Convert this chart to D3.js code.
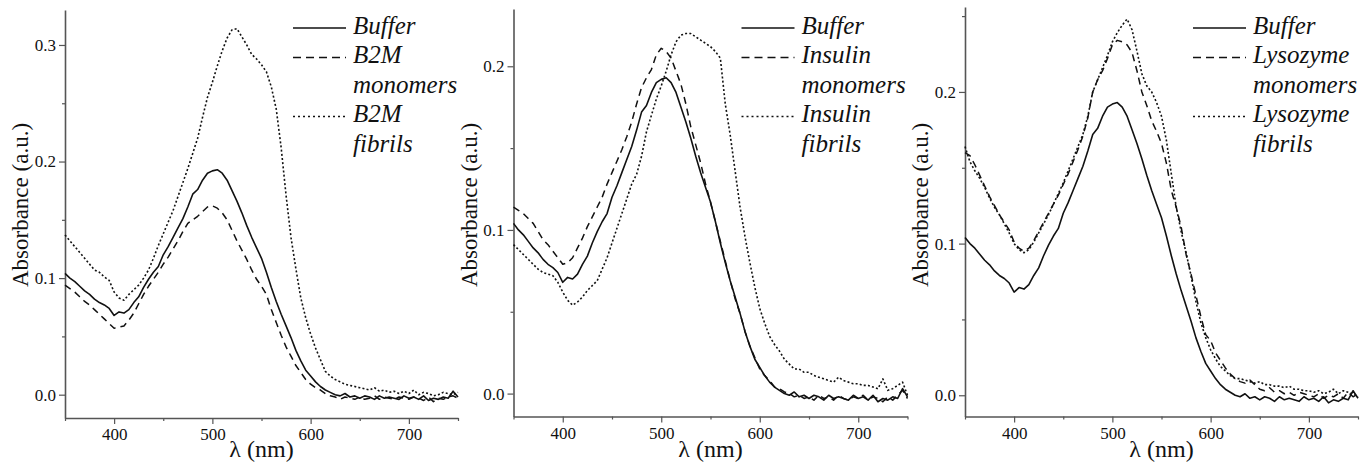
<!DOCTYPE html>
<html>
<head>
<meta charset="utf-8">
<script src="https://cdn.jsdelivr.net/npm/d3@7"></script>
<style>
  body { margin: 0; background: #fff; }
</style>
</head>
<body>
<div class="canvas"></div>
<script>
// wavelength grid, 350..750 nm every 5 nm
const wavelengths = d3.range(350, 751, 5)

// each row below = 50 nm (10 points), last value = 750 nm
const buffer = [
  .104,.100,.097,.093,.089,.086,.082,.079,.077,.074,
  .068,.071,.070,.073,.079,.084,.092,.099,.105,.110,
  .120,.127,.135,.143,.151,.161,.172,.176,.184,.190,
  .192,.193,.190,.184,.175,.166,.156,.145,.135,.126,
  .117,.105,.092,.080,.069,.059,.049,.038,.029,.021,
  .016,.011,.007,.004,.002,.000,-.001,.001,-.002,-.001,
  -.003,-.001,-.002,-.004,-.001,-.003,-.002,-.003,-.004,-.001,
  -.003,-.002,-.004,-.001,-.005,-.003,-.004,-.002,-.003,.003,
  -.002
]
const b2mMonomers = [
  .094,.091,.088,.084,.080,.077,.073,.069,.065,.061,
  .057,.058,.059,.064,.070,.078,.086,.093,.099,.105,
  .112,.118,.125,.132,.140,.147,.150,.153,.157,.161,
  .162,.160,.156,.150,.141,.132,.124,.116,.107,.099,
  .093,.086,.073,.062,.051,.041,.033,.025,.019,.013,
  .009,.006,.004,.001,-.001,-.002,-.004,-.002,-.003,-.004,
  -.002,-.004,-.003,-.001,-.004,-.002,-.003,-.004,-.002,-.003,
  -.004,-.002,-.003,-.005,-.002,-.006,-.003,-.004,-.002,-.001,
  -.003
]
const b2mFibrils = [
  .137,.132,.127,.122,.117,.112,.107,.105,.101,.098,
  .088,.083,.081,.086,.090,.094,.100,.107,.117,.128,
  .138,.148,.158,.170,.182,.194,.207,.220,.238,.255,
  .268,.282,.295,.306,.313,.314,.307,.300,.292,.288,
  .283,.277,.264,.245,.212,.171,.135,.108,.083,.066,
  .052,.040,.030,.020,.016,.013,.011,.009,.008,.007,
  .006,.005,.004,.006,.003,.004,.002,.003,.001,.003,
  .001,.004,.000,.002,.001,-.001,.000,.002,.001,.000,
  .002
]
const insulinMonomers = [
  .114,.112,.110,.107,.104,.099,.094,.091,.087,.083,
  .079,.080,.083,.089,.095,.102,.108,.114,.120,.128,
  .135,.142,.149,.157,.166,.177,.187,.193,.198,.207,
  .211,.209,.205,.197,.189,.177,.163,.152,.141,.128,
  .117,.105,.093,.081,.069,.058,.049,.038,.029,.022,
  .015,.011,.008,.004,.003,.001,.000,-.002,-.001,-.003,
  -.002,-.004,-.001,-.003,-.002,-.004,-.001,-.003,-.004,-.002,
  -.003,-.001,-.004,-.002,-.003,-.005,-.002,-.004,-.001,.002,
  -.003
]
const insulinFibrils = [
  .091,.088,.085,.082,.079,.076,.074,.073,.072,.068,
  .062,.057,.054,.056,.059,.063,.066,.069,.076,.083,
  .092,.101,.110,.119,.128,.134,.145,.160,.170,.180,
  .188,.197,.207,.215,.219,.220,.220,.218,.216,.214,
  .212,.209,.205,.177,.158,.136,.114,.096,.080,.065,
  .052,.043,.035,.030,.026,.021,.018,.015,.015,.013,
  .013,.011,.010,.009,.008,.007,.010,.008,.007,.006,
  .006,.005,.005,.004,.003,.009,.002,.003,.005,.007,
  -.001
]
const lysozymeMonomers = [
  .160,.158,.152,.145,.138,.131,.125,.119,.114,.109,
  .101,.097,.095,.097,.102,.108,.114,.120,.126,.132,
  .139,.146,.154,.162,.171,.183,.200,.208,.214,.222,
  .231,.234,.233,.231,.226,.214,.200,.191,.181,.174,
  .166,.153,.135,.124,.111,.093,.080,.066,.052,.040,
  .036,.028,.023,.018,.014,.011,.009,.008,.010,.007,
  .004,.003,.005,.002,.003,.001,.002,.000,.002,.001,
  .000,-.001,.001,-.002,.000,-.001,.001,-.002,.002,-.001,
  .001
]
const lysozymeFibrils = [
  .164,.154,.148,.143,.137,.130,.124,.119,.113,.107,
  .100,.096,.094,.096,.101,.107,.113,.119,.126,.133,
  .140,.148,.156,.164,.172,.184,.200,.208,.216,.224,
  .233,.239,.244,.248,.241,.227,.212,.204,.200,.193,
  .184,.168,.146,.124,.108,.094,.079,.062,.048,.038,
  .030,.024,.019,.016,.013,.011,.011,.010,.009,.008,
  .009,.007,.007,.006,.006,.005,.006,.004,.004,.003,
  .003,.002,.003,.001,.002,.004,.001,.003,.002,.001,
  -.001
]

const xTicks = [400, 500, 600, 700]
const xMinorTicks = [350, 450, 550, 650, 750]
const panelNames = ['B2M', 'Insulin', 'Lysozyme']
const yTicksList = [[0, 0.1, 0.2, 0.3], [0, 0.1, 0.2], [0, 0.1, 0.2]]
const yMinorList = [[0.05, 0.15, 0.25], [0.05, 0.15], [0.05, 0.15, 0.25]]
const yDomains = [[-0.02, 0.33], [-0.014, 0.235], [-0.014, 0.256]]
const monomerSeries = [b2mMonomers, insulinMonomers, lysozymeMonomers]
const fibrilSeries = [b2mFibrils, insulinFibrils, lysozymeFibrils]

const FONT = '"Liberation Serif"'
const width = 1369, height = 466
const svg = d3.select('.canvas').append('svg')
    .attr('width', width)
    .attr('height', height)

// pixel frames of the three panels
const frames = [
    {x0: 65, x1: 458, top: 10, bottom: 418},
    {x0: 513.5, x1: 907.5, top: 9, bottom: 416.5},
    {x0: 965, x1: 1358, top: 7, bottom: 416.5}
]

const styles = {
    solid: {dash: null, w: 1.6},
    dashed: {dash: '7,5', w: 1.5},
    dotted: {dash: '2,2.2', w: 1.6}
}

frames.forEach((f, i) => drawPanel(f, i))

function drawPanel(f, i){
    let x = d3.scaleLinear().domain([350, 750]).range([f.x0, f.x1])
    let y = d3.scaleLinear().domain(yDomains[i]).range([f.bottom, f.top])
    let g = svg.append('g')

    // axes
    g.append('g').attr('transform', `translate(0,${f.bottom})`)
        .call(d3.axisBottom(x).tickValues(xTicks).tickSize(6).tickSizeOuter(0).tickPadding(4))
    g.append('g').attr('transform', `translate(0,${f.bottom})`)
        .call(d3.axisBottom(x).tickValues(xMinorTicks).tickSize(3).tickSizeOuter(0).tickFormat(''))
        .select('.domain').remove()
    g.append('g').attr('transform', `translate(${f.x0},0)`)
        .call(d3.axisLeft(y).tickValues(yTicksList[i]).tickSize(6).tickSizeOuter(0).tickPadding(3).tickFormat(d3.format('.1f')))
    g.append('g').attr('transform', `translate(${f.x0},0)`)
        .call(d3.axisLeft(y).tickValues(yMinorList[i]).tickSize(3).tickSizeOuter(0).tickFormat(''))
        .select('.domain').remove()

    g.selectAll('.domain').attr('stroke', '#555').attr('stroke-width', 1.6)
    g.selectAll('.tick line').attr('stroke', '#555').attr('stroke-width', 1.2)
    g.selectAll('.tick text')
        .style('font-family', FONT)
        .style('font-size', '17px')
        .attr('fill', '#111')

    // axis titles
    g.append('text')
        .attr('transform', `translate(${f.x0 - 45},205) rotate(-90)`)
        .attr('text-anchor', 'middle')
        .attr('dy', '0.35em')
        .attr('fill', '#111')
        .style('font-family', FONT)
        .style('font-size', '23px')
        .text('Absorbance (a.u.)')
    g.append('text')
        .attr('x', (f.x0 + f.x1) / 2)
        .attr('y', 457)
        .attr('text-anchor', 'middle')
        .attr('fill', '#111')
        .style('font-family', FONT)
        .style('font-size', '24px')
        .text('λ (nm)')

    // curves
    let line = d3.line()
        .x((d, k) => x(wavelengths[k]))
        .y(d => y(d))
    let series = [
        {vals: buffer, s: styles.solid},
        {vals: monomerSeries[i], s: styles.dashed},
        {vals: fibrilSeries[i], s: styles.dotted}
    ]
    series.forEach(sr => {
        g.append('path')
            .datum(sr.vals)
            .attr('d', line)
            .attr('fill', 'none')
            .attr('stroke', '#111')
            .attr('stroke-width', sr.s.w)
            .attr('stroke-dasharray', sr.s.dash)
            .attr('stroke-linejoin', 'round')
    })

    // legend
    let lx = f.x0 + 228, tx = f.x0 + 288
    let rows = [
        {text: 'Buffer', s: styles.solid},
        {text: panelNames[i], s: {dash: '8,5', w: 1.5}},
        {text: 'monomers', s: null},
        {text: panelNames[i], s: {dash: '2,3', w: 1.5}},
        {text: 'fibrils', s: null}
    ]
    rows.forEach((r, k) => {
        let base = 33.5 + k * 29.5
        if (r.s){
            g.append('line')
                .attr('x1', lx).attr('x2', lx + 53)
                .attr('y1', base - 5.5).attr('y2', base - 5.5)
                .attr('stroke', '#111')
                .attr('stroke-width', r.s.w)
                .attr('stroke-dasharray', r.s.dash)
        }
        g.append('text')
            .attr('x', tx)
            .attr('y', base)
            .attr('fill', '#111')
            .style('font-family', FONT)
            .style('font-size', '25px')
            .style('font-style', 'italic')
            .text(r.text)
    })
}
</script>
</body>
</html>
